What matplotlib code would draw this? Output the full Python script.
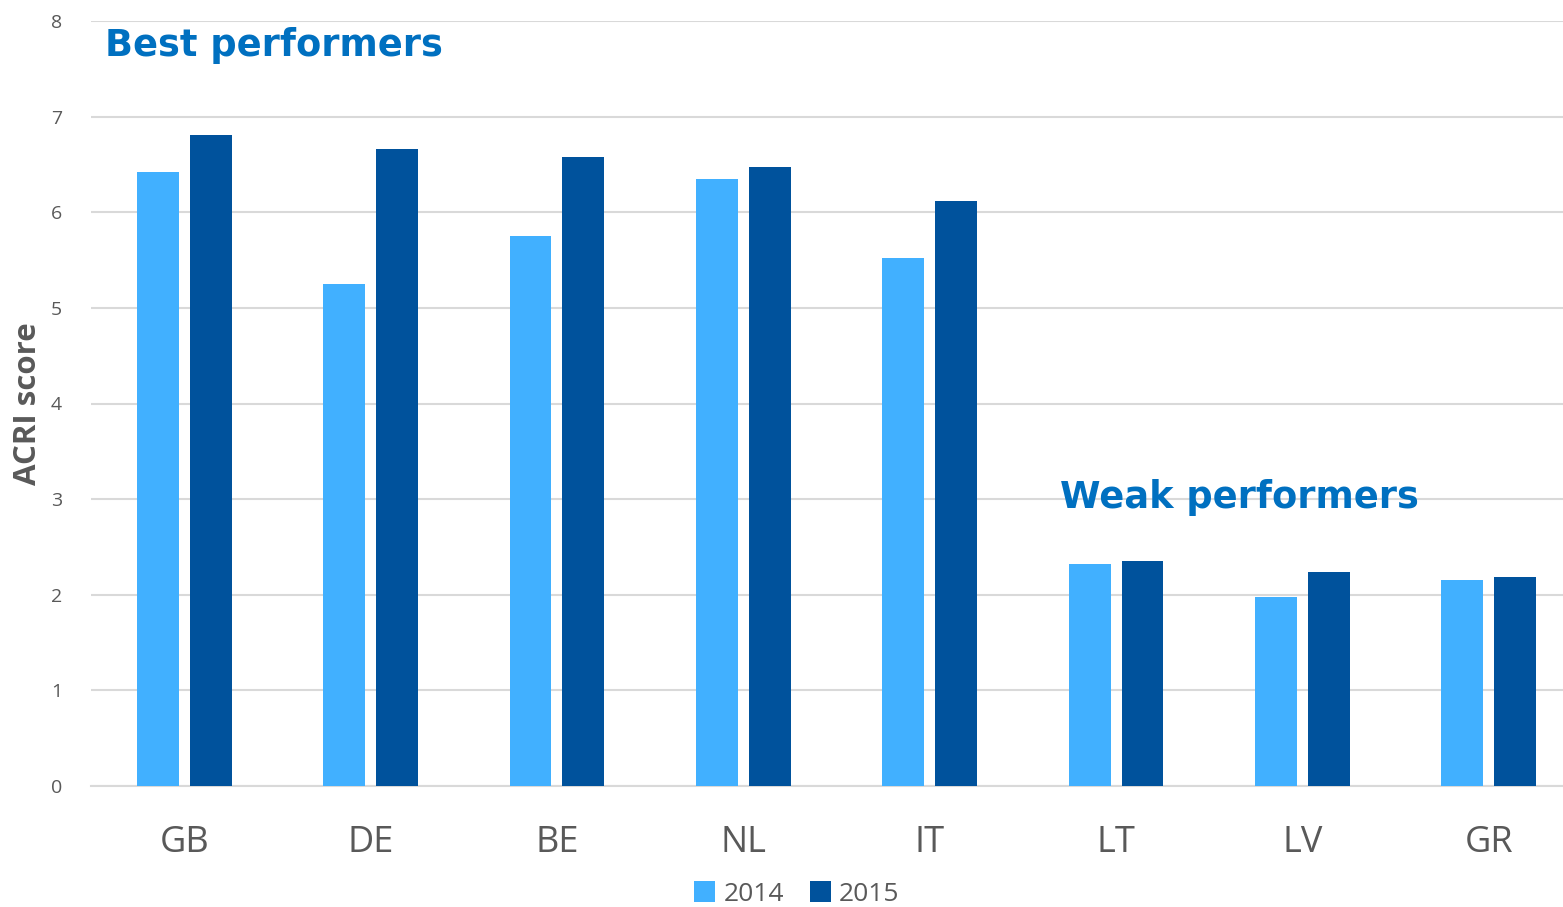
import numpy as np
import matplotlib
matplotlib.use("Agg")
import matplotlib.pyplot as plt

# ---------------------------------------------------------
# DATA
# ---------------------------------------------------------
countries = ["GB", "DE", "BE", "NL", "IT", "LT", "LV", "GR"]
scores_2014 = [6.42, 5.25, 5.75, 6.35, 5.52, 2.32, 1.98, 2.15]
scores_2015 = [6.81, 6.66, 6.58, 6.47, 6.12, 2.35, 2.24, 2.19]
y_ticks = [0, 1, 2, 3, 4, 5, 6, 7, 8]

COLOR_2014 = "#41B0FF"
COLOR_2015 = "#00529C"
TEXT_GREY = "#595959"
NOTE_BLUE = "#0070C0"

plt.rcParams["font.family"] = ["Open Sans", "DejaVu Sans"]

fig = plt.figure(figsize=(15.63, 9.07), dpi=100)
# the plot area runs a little past the right edge of the picture
ax = fig.add_axes([91 / 1563, 121 / 907, 1491 / 1563, 765 / 907])

x = np.arange(len(countries))
width = 0.225
offset = 0.142
ax.bar(x - offset, scores_2014, width, color=COLOR_2014, label="2014", zorder=3)
ax.bar(x + offset, scores_2015, width, color=COLOR_2015, label="2015", zorder=3)

ax.set_xlim(-0.5, len(countries) - 0.5)
ax.set_ylim(0, 8)
ax.set_yticks(y_ticks)
ax.set_yticklabels([str(t) for t in y_ticks], fontsize=14, color=TEXT_GREY)
ax.set_xticks(x)
ax.set_xticklabels(countries, fontsize=26, color=TEXT_GREY)
ax.tick_params(axis="both", length=0)
ax.tick_params(axis="y", pad=21)
ax.tick_params(axis="x", pad=28)

ax.grid(axis="y", color="#D9D9D9", linewidth=1.5, zorder=0)
for side in ["top", "right", "left"]:
    ax.spines[side].set_visible(False)
ax.spines["bottom"].set_color("#D9D9D9")
ax.spines["bottom"].set_linewidth(1.5)

fig.text(28 / 1563, 1 - 404 / 907, "ACRI score", rotation=90, fontsize=22.5,
         fontweight="bold", color=TEXT_GREY, ha="center", va="center")

fig.text(105 / 1563, 1 - 46 / 907, "Best performers", fontsize=26.5, fontweight="bold",
         color=NOTE_BLUE, family="DejaVu Sans", ha="left", va="center")
fig.text(1060 / 1563, 1 - 497 / 907, "Weak performers", fontsize=26.5, fontweight="bold",
         color=NOTE_BLUE, family="DejaVu Sans", ha="left", va="center")

fig.legend(loc="center", bbox_to_anchor=(797 / 1563, 1 - 894 / 907), ncol=2,
           frameon=False, fontsize=19, labelcolor=TEXT_GREY, handlelength=0.8,
           handleheight=0.8, handletextpad=0.3, columnspacing=1.0)

fig.savefig("out.png", dpi=100)
